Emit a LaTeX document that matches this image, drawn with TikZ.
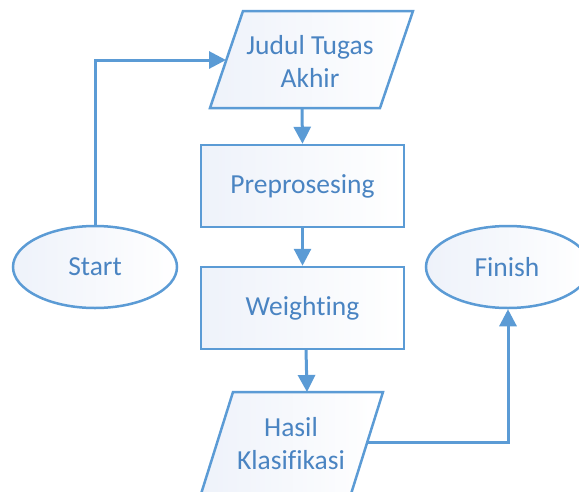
\documentclass[tikz,border=0pt]{standalone}
\usepackage{fontspec}
\setmainfont{Carlito}[Ligatures=NoCommon]
\usetikzlibrary{arrows.meta,shapes.geometric}
\definecolor{edge}{HTML}{5B9BD5}
\definecolor{label}{HTML}{4A84C2}
\definecolor{boxfill}{HTML}{EEF2FA}
\tikzset{
  shapeline/.style={draw=edge, line width=2.5pt, left color=boxfill, right color=white},
  procbox/.style={shapeline, rectangle, minimum width=203pt, minimum height=82pt, inner sep=0pt},
  terminal/.style={shapeline, ellipse, minimum width=164pt, minimum height=82pt, inner sep=0pt},
  caption/.style={text=label, font=\fontsize{27.5}{33}\selectfont, align=center, inner sep=0pt},
  flow/.style={draw=edge, line width=3pt, -{Triangle[width=17pt,length=17pt]}},
  link/.style={draw=edge, line width=3pt}
}
\begin{document}
\begin{tikzpicture}[x=1pt,y=-1pt]
\useasboundingbox (0,0) rectangle (579,491);
\clip (0,0) rectangle (579,491);

% input parallelogram
\coordinate (j1) at (243,11);
\coordinate (j2) at (413,11);
\coordinate (j3) at (380,108);
\coordinate (j4) at (210,108);
\path[shapeline] (j1) -- (j2) -- (j3) -- (j4) -- cycle;
\node[caption] (judul) at (310,61) {Judul Tugas\\Akhir};
\coordinate (judulIn) at (226,60);
\coordinate (judulOut) at (302,108);

% processing steps
\node[procbox] (pre) at (302.5,186) {};
\node[caption] at (pre.center) {Preprosesing};
\node[procbox] (wgt) at (302.5,308) {};
\node[caption] at (wgt.center) {Weighting};

% output parallelogram
\coordinate (h1) at (233,392);
\coordinate (h2) at (383,392);
\coordinate (h3) at (351,494);
\coordinate (h4) at (201,494);
\path[shapeline] (h1) -- (h2) -- (h3) -- (h4) -- cycle;
\node[caption] (hasil) at (291,444) {Hasil\\Klasifikasi};
\coordinate (hasilIn) at (307,392);
\coordinate (hasilOut) at (367,442);
\coordinate (wgtOut) at (306,349);

% terminals
\node[terminal] (start) at (95,267) {};
\node[caption] at (start.center) {Start};
\node[terminal] (finish) at (508,267) {};
\node[caption] at (507,267) {Finish};

% connectors
\draw[flow] (start.north) |- (judulIn);
\draw[flow] (judulOut) -- (pre.north);
\draw[flow] (pre.south) -- (wgt.north);
\draw[flow] (wgtOut) -- (hasilIn);
\draw[flow] (hasilOut) -| (finish.south);
\end{tikzpicture}
\end{document}
